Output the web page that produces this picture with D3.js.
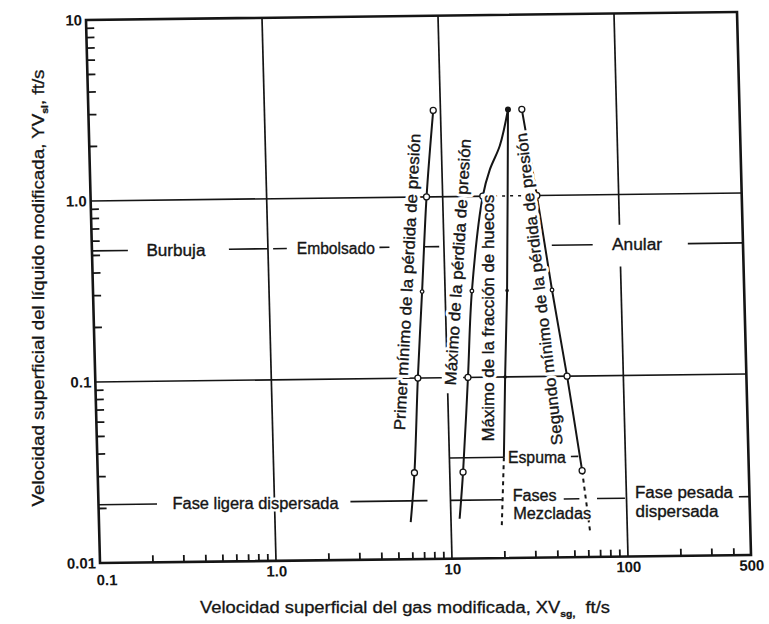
<!DOCTYPE html>
<html>
<head>
<meta charset="utf-8">
<script src="https://cdn.jsdelivr.net/npm/d3@7"></script>
<style>
  body { margin: 0; background: #fff; }
  svg { display: block; font-family: "Liberation Sans", Arial, sans-serif; }
</style>
</head>
<body>
<div id="chart-area"></div>
<script>
// axis ranges, ft/s (log-log)
const xDomain = [0.1, 500];
const yDomain = [0.01, 10];
const xTickValues = [0.1, 1, 10, 100, 500];
const xTickLabels = ["0.1", "1.0", "10", "100", "500"];
const yTickValues = [0.01, 0.1, 1, 10];
const yTickLabels = ["0.01", "0.1", "1.0", "10"];

// transition curves (gas velocity, liquid velocity)
const primerX = [5.9, 6.3, 6.8, 7.4, 8.1, 9.1];
const primerY = [0.016, 0.03, 0.1, 0.3, 1.0, 3.0];
const maxPerdidaX = [11.2, 11.9, 13.1, 14.2, 16.9, 18.7, 21.5, 24.2];
const maxPerdidaY = [0.0166, 0.03, 0.1, 0.3, 1.0, 1.4, 1.9, 3.0];
const maxHuecosX = [24.2, 23.4, 22.5, 21.3, 20.4];
const maxHuecosY = [3.0, 1.0, 0.3, 0.1, 0.036];
const maxHuecosDashX = [20.4, 19.4];
const maxHuecosDashY = [0.036, 0.0152];
const segundoX = [29.0, 34.3, 40.5, 47.9, 56.5];
const segundoY = [3.0, 1.0, 0.3, 0.1, 0.03];
const segundoDashX = [56.5, 61.4];
const segundoDashY = [0.03, 0.0139];

// levels where the curves carry a marker
const markLevels = [3, 1, 0.3, 0.1, 0.03];

// regime boundary lines (broken around the names)
const burbujaLevel = 0.53;
const burbujaFrom = [0.1, 0.6, 1.07, 4.3, 7.8, 41, 243];
const burbujaTo   = [0.16, 1.0, 1.28, 4.9, 9.4, 70, 500];
const dispLevel = 0.021;
const dispFrom = [0.1, 2.7, 10, 44, 68, 435];
const dispTo   = [0.215, 7.4, 19.9, 54, 98, 500];
const espumaLevel = 0.036;
const espumaFrom = [10, 49];
const espumaTo   = [20.4, 54];

// grid lines of the original (with the gaps of the scan)
const vGridX    = [1, 10, 10, 100, 100];
const vGridFrom = [0.01, 0.01, 0.137, 0.01, 0.68];
const vGridTo   = [10, 0.082, 10, 0.4, 10];
const hGridY    = [1, 1, 0.1, 0.1];
const hGridFrom = [0.1, 34.3, 0.1, 12.3];
const hGridTo   = [19.6, 500, 9.3, 500];
const hDotY = [1];
const hDotFrom = [19.6];
const hDotTo = [34.3];

// region names
const regionNames = ["Burbuja", "Embolsado", "Anular", "Fase ligera dispersada"];
const regionX = [0.30, 2.43, 125, 0.78];
const regionY = [0.53, 0.53, 0.53, 0.021];
const regionLen = [59, 78, 50, 166];

const leftNames = ["Espuma", "Fases", "Mezcladas", "Fase pesada", "dispersada"];
const leftX = [21.5, 22.6, 22.6, 112, 112];
const leftY = [0.036, 0.0223, 0.0177, 0.0227, 0.0178];
const leftLen = [58, 44, 78, 98, 83];

const curveNames = ["Primer mínimo de la pérdida de presión", "Máximo de la pérdida de presión",
                    "Máximo de la fracción de huecos", "Segundo mínimo de la pérdida de presión"];
const curveNameX = [6.09, 11.9, 17.4, 34.2];
const curveNameY = [0.34, 0.434, 0.212, 0.304];
const curveNameAngle = [-87, -86.5, -90, -96.6];
const curveNameLen = [297, 247, 247, 314];

const W = 651, H = 543;
// the scanned frame is slightly skewed
const M = [1, -0.0123, 0.0258, 1, 86, 20];
const toScreen = (u, v) => [M[0] * u + M[2] * v + M[4], M[1] * u + M[3] * v + M[5]];
const ink = "#151515";

const svg = d3.select("#chart-area").append("svg")
  .attr("width", 769).attr("height", 624);
svg.append("rect").attr("width", 769).attr("height", 624).attr("fill", "#fff");

const g = svg.append("g").attr("transform", "matrix(" + M.join(",") + ")");

const x = d3.scaleLog().domain(xDomain).range([0, W]);
const y = d3.scaleLog().domain(yDomain).range([H, 0]);

// grid
g.append("g").selectAll("line").data(vGridX).enter().append("line")
  .attr("x1", d => x(d)).attr("x2", d => x(d))
  .attr("y1", (d, i) => y(vGridFrom[i])).attr("y2", (d, i) => y(vGridTo[i]))
  .attr("stroke", ink).attr("stroke-width", 1.7);
g.append("g").selectAll("line").data(hGridY).enter().append("line")
  .attr("y1", d => y(d)).attr("y2", d => y(d))
  .attr("x1", (d, i) => x(hGridFrom[i])).attr("x2", (d, i) => x(hGridTo[i]))
  .attr("stroke", ink).attr("stroke-width", 1.7);
g.append("g").selectAll("line").data(hDotY).enter().append("line")
  .attr("y1", d => y(d)).attr("y2", d => y(d))
  .attr("x1", (d, i) => x(hDotFrom[i])).attr("x2", (d, i) => x(hDotTo[i]))
  .attr("stroke", ink).attr("stroke-width", 1.5).attr("stroke-dasharray", "3,5");

// boundary lines
function segments(level, from, to) {
  g.append("g").selectAll("line").data(from).enter().append("line")
    .attr("x1", d => x(d)).attr("x2", (d, i) => x(to[i]))
    .attr("y1", y(level)).attr("y2", y(level))
    .attr("stroke", ink).attr("stroke-width", 1.6);
}
segments(burbujaLevel, burbujaFrom, burbujaTo);
segments(dispLevel, dispFrom, dispTo);
segments(espumaLevel, espumaFrom, espumaTo);

// frame
g.append("rect").attr("width", W).attr("height", H)
  .attr("fill", "none").attr("stroke", ink).attr("stroke-width", 2.6);

// minor ticks 2..9 of every decade, pointing inwards
const minorX = [], minorY = [];
[0.1, 1, 10, 100].forEach(p => d3.range(2, 10).forEach(k => { if (p * k < 500) minorX.push(p * k); }));
[0.01, 0.1, 1].forEach(p => d3.range(2, 10).forEach(k => minorY.push(p * k)));

g.append("g").selectAll("line").data(minorX).enter().append("line")
  .attr("x1", d => x(d)).attr("x2", d => x(d))
  .attr("y1", H).attr("y2", H - 7)
  .attr("stroke", ink).attr("stroke-width", 1.8);
g.append("g").selectAll("line").data(minorY).enter().append("line")
  .attr("y1", d => y(d)).attr("y2", d => y(d))
  .attr("x1", 0).attr("x2", 8)
  .attr("stroke", ink).attr("stroke-width", 1.8);

const xLab = g.append("g").attr("transform", "translate(0," + H + ")")
  .call(d3.axisBottom(x).tickValues(xTickValues).tickSize(0).tickPadding(5)
    .tickFormat((d, i) => xTickLabels[i]));
const yLab = g.append("g")
  .call(d3.axisLeft(y).tickValues(yTickValues).tickSize(0).tickPadding(4)
    .tickFormat((d, i) => yTickLabels[i]));
[xLab, yLab].forEach(a => {
  a.select(".domain").remove();
  a.selectAll("text").attr("font-family", "Liberation Sans, Arial, sans-serif")
    .attr("font-size", 15).attr("font-weight", "bold").attr("fill", ink);
});
xLab.selectAll("text").filter((d, i) => i === 0).attr("dx", 6).attr("dy", "1.15em");

// transition curves
const smooth = d3.line().x(d => x(d[0])).y(d => y(d[1])).curve(d3.curveCatmullRom.alpha(0.5));
const straight = d3.line().x(d => x(d[0])).y(d => y(d[1]));
const zip = (a, b) => a.map((v, i) => [v, b[i]]);

const curves = [
  { pts: zip(primerX, primerY), gen: smooth, dash: null },
  { pts: zip(maxPerdidaX, maxPerdidaY), gen: smooth, dash: null },
  { pts: zip(maxHuecosX, maxHuecosY), gen: straight, dash: null },
  { pts: zip(maxHuecosDashX, maxHuecosDashY), gen: straight, dash: "4,4" },
  { pts: zip(segundoX, segundoY), gen: smooth, dash: null },
  { pts: zip(segundoDashX, segundoDashY), gen: straight, dash: "4,4" }
];
g.append("g").selectAll("path").data(curves).enter().append("path")
  .attr("d", d => d.gen(d.pts))
  .attr("fill", "none").attr("stroke", ink).attr("stroke-width", 2)
  .attr("stroke-dasharray", d => d.dash);

// markers
const openMarks = zip(primerX, primerY).concat(zip(maxPerdidaX, maxPerdidaY), zip(segundoX, segundoY))
  .filter(d => markLevels.includes(d[1]) && d[0] !== 24.2);
g.append("g").selectAll("circle").data(openMarks).enter().append("circle")
  .attr("cx", d => x(d[0])).attr("cy", d => y(d[1]))
  .attr("r", d => d[1] === 0.3 ? 1.8 : 3)
  .attr("fill", "#fff").attr("stroke", ink).attr("stroke-width", 1.3);
const dotMarks = zip(maxHuecosX, maxHuecosY).filter(d => d[1] === 0.3 || d[1] === 0.1 || d[1] === 3);
g.append("g").selectAll("circle").data(dotMarks).enter().append("circle")
  .attr("cx", d => x(d[0])).attr("cy", d => y(d[1]))
  .attr("r", d => d[1] === 3 ? 3 : 1.8).attr("fill", ink);

// labels, drawn unskewed on top: a white halo copy, then the ink text (slightly thickened like the scan)
const labels = svg.append("g").attr("font-size", 16);

function label(names, place, anchor, lengths, halo) {
  [true, false].forEach(isHalo => {
    labels.append("g").selectAll("text").data(names).enter().append("text")
      .attr("transform", place)
      .attr("text-anchor", anchor).attr("dy", "0.36em")
      .attr("fill", isHalo ? "#fff" : ink)
      .attr("stroke", isHalo ? "#fff" : ink)
      .attr("stroke-width", isHalo ? halo : 0.35)
      .attr("stroke-linejoin", "round")
      .attr("textLength", (d, i) => lengths[i]).attr("lengthAdjust", "spacingAndGlyphs")
      .text(d => d);
  });
}
label(regionNames, (d, i) => "translate(" + toScreen(x(regionX[i]), y(regionY[i])) + ")",
  "middle", regionLen, 5);
label(leftNames, (d, i) => "translate(" + toScreen(x(leftX[i]), y(leftY[i])) + ")",
  "start", leftLen, 3);
label(curveNames, (d, i) => "translate(" + toScreen(x(curveNameX[i]), y(curveNameY[i])) + ") rotate(" + curveNameAngle[i] + ")",
  "middle", curveNameLen, 6);

// axis titles
const yTitle = svg.append("text")
  .attr("transform", "translate(38,288) rotate(-90)")
  .attr("text-anchor", "middle").attr("dy", "0.36em")
  .attr("font-size", 16).attr("fill", ink).attr("stroke", ink).attr("stroke-width", 0.3)
  .attr("textLength", 437).attr("lengthAdjust", "spacingAndGlyphs");
yTitle.append("tspan").text("Velocidad superficial del líquido modificada, YV");
yTitle.append("tspan").attr("dy", 4).attr("font-size", 9).attr("font-weight", "bold").text("sl");
yTitle.append("tspan").attr("dy", -4).text(", ft/s");

const xTitle = svg.append("text")
  .attr("transform", "translate(405,607)")
  .attr("text-anchor", "middle").attr("dy", "0.36em")
  .attr("font-size", 16).attr("fill", ink).attr("stroke", ink).attr("stroke-width", 0.3)
  .attr("textLength", 410).attr("lengthAdjust", "spacingAndGlyphs");
xTitle.append("tspan").text("Velocidad superficial del gas modificada, XV");
xTitle.append("tspan").attr("dy", 4).attr("font-size", 9).attr("font-weight", "bold").text("sg,");
xTitle.append("tspan").attr("dy", -4).attr("xml:space", "preserve").text("  ft/s");
</script>
</body>
</html>
